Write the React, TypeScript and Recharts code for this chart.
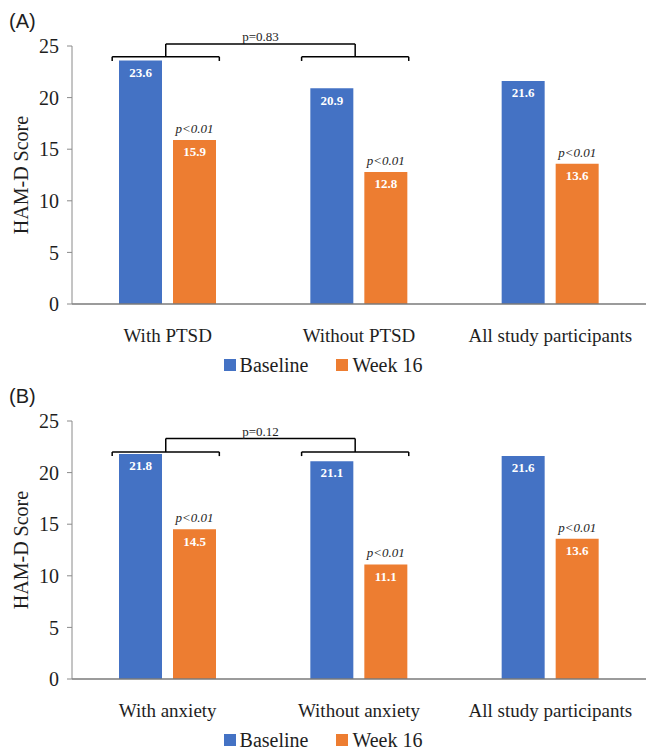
import { BarChart, Bar, XAxis, YAxis, Legend, LabelList, ReferenceLine } from 'recharts';

// values
const categoriesA = ['With PTSD', 'Without PTSD', 'All study participants'];
const baselineA = [23.6, 20.9, 21.6];
const week16A = [15.9, 12.8, 13.6];
const groupPA = 'p=0.83';

const categoriesB = ['With anxiety', 'Without anxiety', 'All study participants'];
const baselineB = [21.8, 21.1, 21.6];
const week16B = [14.5, 11.1, 13.6];
const groupPB = 'p=0.12';

const seriesNames = ['Baseline', 'Week 16'];
const changeP = 'p<0.01';
const yTicks = [0, 5, 10, 15, 20, 25];

const BLUE = '#4472C4';
const ORANGE = '#ED7D31';
const FONT = "'Liberation Serif', serif";
const INK = '#1e1e1e';

type PanelProps = {
  tag: string;
  categories: string[];
  baseline: number[];
  week16: number[];
  groupP: string;
  // bracket heights in score units
  bracketY: number;
  bracketTop: number;
  top: number;
};

const LegendBox = () => (
  <div
    style={{
      display: 'flex',
      justifyContent: 'center',
      alignItems: 'center',
      gap: 28,
      paddingTop: 10,
      height: 22,
      fontFamily: FONT,
      fontSize: 20,
      color: INK,
    }}
  >
    {seriesNames.map((name, i) => (
      <span key={name} style={{ display: 'flex', alignItems: 'center' }}>
        <span style={{ width: 12, height: 12, background: i === 0 ? BLUE : ORANGE, marginRight: 4 }} />
        {name}
      </span>
    ))}
  </div>
);

function Panel({ tag, categories, baseline, week16, groupP, bracketY, bracketTop, top }: PanelProps) {
  // pos = category slot centre on a hidden 0..3 numeric axis, used only for the brackets
  const data = categories.map((name, i) => ({ name, pos: i + 0.5, baseline: baseline[i], week16: week16[i] }));
  const centers = [0.49, 1.48];
  const half = 0.28;
  const tip = bracketY - 0.4;
  const lineProps = { xAxisId: 'num', stroke: '#000', strokeWidth: 1.5, ifOverflow: 'visible' as const };

  return (
    <div style={{ position: 'absolute', left: 0, top, width: 646, height: 376 }}>
      <div style={{ position: 'absolute', left: 9, top: 11, fontFamily: 'Arial, "Liberation Sans", sans-serif', fontSize: 20, color: INK, lineHeight: 1 }}>
        {tag}
      </div>
      <BarChart
        width={646}
        height={376}
        data={data}
        margin={{ top: 46, right: 0, left: 0, bottom: 0 }}
        barGap={11}
        barSize={43}
      >
        <XAxis
          dataKey="name"
          tickLine={false}
          tickSize={8}
          tickMargin={17}
          height={40}
          axisLine={{ stroke: '#7a7a7a', strokeWidth: 1.5 }}
          tick={{ fill: INK, fontSize: 19, fontFamily: FONT }}
          interval={0}
        />
        <XAxis xAxisId="num" dataKey="pos" type="number" domain={[0, 3]} hide allowDataOverflow />
        <YAxis
          width={72}
          domain={[0, 25]}
          ticks={yTicks}
          tickSize={5}
          tickMargin={8}
          axisLine={{ stroke: '#8a8a8a' }}
          tickLine={{ stroke: '#8a8a8a' }}
          tick={{ fill: INK, fontSize: 20, fontFamily: FONT }}
          label={{
            value: 'HAM-D Score',
            angle: -90,
            position: 'center',
            dx: -15,
            style: { fontSize: 20, fontFamily: FONT, fill: INK, textAnchor: 'middle' },
          }}
        />
        <Legend verticalAlign="bottom" content={<LegendBox />} />
        <Bar dataKey="baseline" name={seriesNames[0]} fill={BLUE} isAnimationActive={false}>
          <LabelList
            dataKey="baseline"
            position="insideTop"
            offset={7}
            fill="#fff"
            fontSize={13}
            fontWeight="bold"
            fontFamily={FONT}
            formatter={(v: any) => Number(v).toFixed(1)}
          />
        </Bar>
        <Bar dataKey="week16" name={seriesNames[1]} fill={ORANGE} isAnimationActive={false}>
          <LabelList
            dataKey="week16"
            position="insideTop"
            offset={7}
            fill="#fff"
            fontSize={13}
            fontWeight="bold"
            fontFamily={FONT}
            formatter={(v: any) => Number(v).toFixed(1)}
          />
          <LabelList
            dataKey="week16"
            position="top"
            offset={7}
            fill={INK}
            fontSize={13}
            fontStyle="italic"
            fontFamily={FONT}
            formatter={() => changeP}
          />
        </Bar>
        {centers.map((c) => (
          <ReferenceLine key={'h' + c} {...lineProps} segment={[{ x: c - half, y: bracketY }, { x: c + half, y: bracketY }]} />
        ))}
        {centers.map((c) => (
          <ReferenceLine key={'l' + c} {...lineProps} segment={[{ x: c - half, y: tip }, { x: c - half, y: bracketY }]} />
        ))}
        {centers.map((c) => (
          <ReferenceLine key={'r' + c} {...lineProps} segment={[{ x: c + half, y: tip }, { x: c + half, y: bracketY }]} />
        ))}
        {centers.map((c) => (
          <ReferenceLine key={'v' + c} {...lineProps} segment={[{ x: c, y: bracketY }, { x: c, y: bracketTop }]} />
        ))}
        <ReferenceLine
          {...lineProps}
          segment={[{ x: centers[0], y: bracketTop }, { x: centers[1], y: bracketTop }]}
          label={{ value: groupP, position: 'top', offset: 3, fontSize: 13, fontFamily: FONT, fill: INK }}
        />
      </BarChart>
    </div>
  );
}

export default function App() {
  return (
    <div style={{ position: 'absolute', left: 0, top: 0, width: 646, height: 752, background: '#fff' }}>
      <Panel
        tag="(A)"
        categories={categoriesA}
        baseline={baselineA}
        week16={week16A}
        groupP={groupPA}
        bracketY={23.95}
        bracketTop={25.2}
        top={0}
      />
      <Panel
        tag="(B)"
        categories={categoriesB}
        baseline={baselineB}
        week16={week16B}
        groupP={groupPB}
        bracketY={22.0}
        bracketTop={23.3}
        top={375}
      />
    </div>
  );
}
